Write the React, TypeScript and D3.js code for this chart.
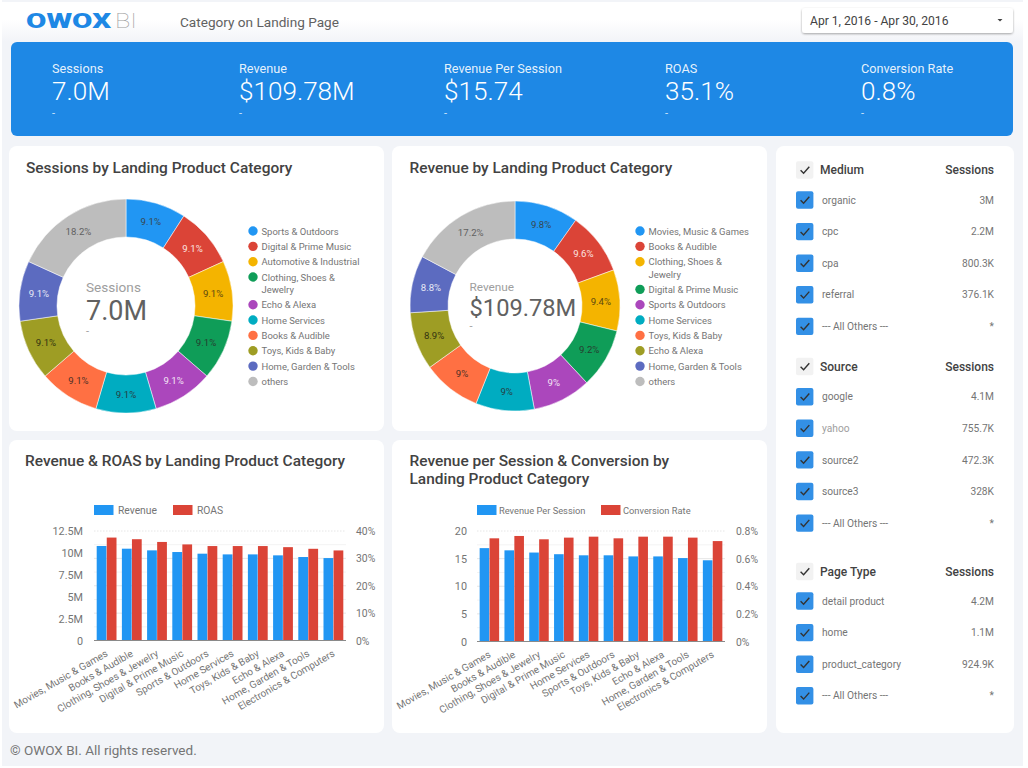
import React from 'react';
import * as d3 from 'd3';

const FONT = 'Roboto, sans-serif';
const BLUE = '#2196f3';
const RED = '#db4437';
const TEXT_GREY = '#757575';

const kpiLabels = ['Sessions', 'Revenue', 'Revenue Per Session', 'ROAS', 'Conversion Rate'];
const kpiValues = ['7.0M', '$109.78M', '$15.74', '35.1%', '0.8%'];
const kpiX = [52, 239, 444, 665, 861];

const PALETTE = ['#2196f3', '#db4437', '#f4b400', '#0f9d58', '#ab47bc', '#00acc1', '#ff7043', '#9e9d24', '#5c6bc0', '#bdbdbd'];
const PIE_LABEL_COLORS = ['#37474f', '#fbe4e0', '#5d4a10', '#263e30', '#f3e5f5', '#263e44', '#4e3026', '#333310', '#e8eaf6', '#616161'];

const sessionCategories = ['Sports & Outdoors', 'Digital & Prime Music', 'Automotive & Industrial', 'Clothing, Shoes &|Jewelry', 'Echo & Alexa', 'Home Services', 'Books & Audible', 'Toys, Kids & Baby', 'Home, Garden & Tools', 'others'];
const sessionShares = [9.1, 9.1, 9.1, 9.1, 9.1, 9.1, 9.1, 9.1, 9.1, 18.2];

const revenueCategories = ['Movies, Music & Games', 'Books & Audible', 'Clothing, Shoes &|Jewelry', 'Digital & Prime Music', 'Sports & Outdoors', 'Home Services', 'Toys, Kids & Baby', 'Echo & Alexa', 'Home, Garden & Tools', 'others'];
const revenueShares = [9.8, 9.6, 9.4, 9.2, 9, 9, 9, 8.9, 8.8, 17.2];

const barCategoriesA = ['Movies, Music & Games', 'Books & Audible', 'Clothing, Shoes & Jewelry', 'Digital & Prime Music', 'Sports & Outdoors', 'Home Services', 'Toys, Kids & Baby', 'Echo & Alexa', 'Home, Garden & Tools', 'Electronics & Computers'];
const revenueValues = [10.79, 10.48, 10.29, 10.1, 9.91, 9.83, 9.83, 9.72, 9.53, 9.41];
const roasValues = [37.6, 37.0, 36.0, 35.1, 34.5, 34.5, 34.5, 34.1, 33.5, 32.9];

const barCategoriesB = ['Movies, Music & Games', 'Books & Audible', 'Clothing, Shoes & Jewelry', 'Digital & Prime Music', 'Home Services', 'Sports & Outdoors', 'Toys, Kids & Baby', 'Echo & Alexa', 'Home, Garden & Tools', 'Electronics & Computers'];
const revPerSessionValues = [16.9, 16.5, 16.1, 15.8, 15.6, 15.6, 15.4, 15.4, 15.1, 14.7];
const conversionValues = [0.747, 0.764, 0.74, 0.752, 0.759, 0.747, 0.759, 0.759, 0.752, 0.727];

const revenueTicks = ['0', '2.5M', '5M', '7.5M', '10M', '12.5M'];
const roasTicks = ['0%', '10%', '20%', '30%', '40%'];
const rpsTicks = ['0', '5', '10', '15', '20'];
const conversionTicks = ['0%', '0.2%', '0.4%', '0.6%', '0.8%'];

const mediumNames = ['organic', 'cpc', 'cpa', 'referral', '--- All Others ---'];
const mediumSessions = ['3M', '2.2M', '800.3K', '376.1K', '*'];
const sourceNames = ['google', 'yahoo', 'source2', 'source3', '--- All Others ---'];
const sourceSessions = ['4.1M', '755.7K', '472.3K', '328K', '*'];
const pageTypeNames = ['detail product', 'home', 'product_category', '--- All Others ---'];
const pageTypeSessions = ['4.2M', '1.1M', '924.9K', '*'];

type DonutProps = {
  cx: number;
  cy: number;
  outer: number;
  inner: number;
  shares: number[];
  categories: string[];
  legendX: number;
  metric: string;
  total: string;
  centerX: number;
  metricY: number;
  totalY: number;
  dashY: number;
  metricSize: number;
  totalSize: number;
};

const Donut = ({ cx, cy, outer, inner, shares, categories, legendX, metric, total, centerX, metricY, totalY, dashY, metricSize, totalSize }: DonutProps) => {
  const arcs = d3.pie<number>().sort(null)(shares);
  const arc = d3.arc<d3.PieArcDatum<number>>().innerRadius(inner).outerRadius(outer);

  let legendY = 231;
  const rows = categories.map((c) => {
    const lines = c.split('|');
    const row = { lines, y: legendY };
    legendY += 15.35 + (lines.length - 1) * 12.3;
    return row;
  });

  return (
    <g>
      <g transform={`translate(${cx},${cy})`}>
        {arcs.map((d, i) => (
          <path key={i} d={arc(d) as string} fill={PALETTE[i]} stroke="#fff" strokeWidth={0.5} />
        ))}
        {arcs.map((d, i) => {
          const [x, y] = arc.centroid(d);
          return (
            <text key={i} x={x} y={y + 3.5} textAnchor="middle" fontSize={9.6} fill={PIE_LABEL_COLORS[i]}>
              {d.data}%
            </text>
          );
        })}
      </g>
      <text x={centerX} y={metricY} fontSize={metricSize} fill="#9e9e9e">{metric}</text>
      <text x={centerX} y={totalY} fontSize={totalSize} fill="#616161">{total}</text>
      <text x={centerX} y={dashY} fontSize={11} fill="#9e9e9e">-</text>
      {rows.map((r, i) => (
        <g key={i}>
          <circle cx={legendX} cy={r.y} r={4.7} fill={PALETTE[i]} />
          {r.lines.map((l, j) => (
            <text key={j} x={legendX + 8.5} y={r.y + 3.5 + j * 12.3} fontSize={9.45} fill={TEXT_GREY}>{l}</text>
          ))}
        </g>
      ))}
    </g>
  );
};

type BarsProps = {
  x0: number;
  x1: number;
  top: number;
  bottom: number;
  categories: string[];
  left: number[];
  right: number[];
  leftMax: number;
  rightMax: number;
  leftTicks: string[];
  rightTicks: string[];
  leftLabelX: number;
  rightLabelX: number;
};

const Bars = ({ x0, x1, top, bottom, categories, left, right, leftMax, rightMax, leftTicks, rightTicks, leftLabelX, rightLabelX }: BarsProps) => {
  const x = d3.scaleBand<string>().domain(categories).range([x0, x1]).paddingInner(0.19).paddingOuter(0.095);
  const sub = d3.scaleBand<string>().domain(['l', 'r']).range([0, x.bandwidth()]).padding(0.03);
  const yL = d3.scaleLinear().domain([0, leftMax]).range([bottom, top]);
  const yR = d3.scaleLinear().domain([0, rightMax]).range([bottom, top]);
  const leftPos = leftTicks.map((_, i) => (leftMax * i) / (leftTicks.length - 1));
  const rightPos = rightTicks.map((_, i) => (rightMax * i) / (rightTicks.length - 1));
  // the right scale drives the grid, the left labels of the first chart sit off it
  const major = rightPos.map((v) => yR(v));
  const minor = major.slice(1).map((y, i) => (y + major[i]) / 2);

  return (
    <g>
      {minor.map((y, i) => <line key={i} x1={x0} x2={x1} y1={y} y2={y} stroke="#f3f3f3" />)}
      {major.map((y, i) => <line key={i} x1={x0} x2={x1} y1={y} y2={y} stroke="#e6e6e6" strokeDasharray={i === major.length - 1 ? '1.5 1.5' : undefined} />)}
      {categories.map((c, i) => (
        <g key={c}>
          <rect x={(x(c) as number) + (sub('l') as number)} width={sub.bandwidth()} y={yL(left[i])} height={bottom - yL(left[i])} fill={BLUE} />
          <rect x={(x(c) as number) + (sub('r') as number)} width={sub.bandwidth()} y={yR(right[i])} height={bottom - yR(right[i])} fill={RED} />
          <text
            transform={`translate(${(x(c) as number) + x.bandwidth() / 2 + 2},${bottom + 15}) rotate(-30)`}
            textAnchor="end"
            fontSize={10}
            fill={TEXT_GREY}
          >
            {c}
          </text>
        </g>
      ))}
      <line x1={x0} x2={x1} y1={bottom} y2={bottom} stroke="#8a8a8a" strokeWidth={1.2} />
      {leftTicks.map((t, i) => (
        <text key={t} x={leftLabelX} y={yL(leftPos[i]) + 4} textAnchor="end" fontSize={10.8} fill={TEXT_GREY}>{t}</text>
      ))}
      {rightTicks.map((t, i) => (
        <text key={t} x={rightLabelX} y={yR(rightPos[i]) + 4} fontSize={10.4} fill={TEXT_GREY}>{t}</text>
      ))}
    </g>
  );
};

const Check = ({ y, header }: { y: number; header?: boolean }) => (
  <g>
    <rect x={796} y={y - 8.7} width={17.4} height={17.4} rx={2} fill={header ? '#f2f2f2' : '#3390e6'} />
    <path d={`M800.6 ${y + 0.3}L803.6 ${y + 3.3}L809.3 ${y - 3.2}`} fill="none" stroke="#333" strokeWidth={1.4} />
  </g>
);

const FilterGroup = ({ title, names, values, y, ys }: { title: string; names: string[]; values: string[]; y: number; ys: number[] }) => (
  <g>
    <Check y={y} header />
    <text x={820} y={y + 4.3} fontSize={12} fontWeight={500} fill="#424242">{title}</text>
    <text x={994} y={y + 4.3} textAnchor="end" fontSize={12} fontWeight={500} fill="#424242">Sessions</text>
    {names.map((n, i) => (
      <g key={n}>
        <Check y={ys[i]} />
        <text x={822} y={ys[i] + 3.6} fontSize={10.2} fill={n === 'yahoo' ? '#9e9e9e' : TEXT_GREY}>{n}</text>
        <text x={994} y={ys[i] + 3.6} textAnchor="end" fontSize={10.2} fill={TEXT_GREY}>{values[i]}</text>
      </g>
    ))}
  </g>
);

const Title = ({ x, y, lines }: { x: number; y: number; lines: string[] }) => (
  <text fontSize={15.45} fontWeight={500} fill="#424242">
    {lines.map((l, i) => <tspan key={i} x={x} y={y + i * 18}>{l}</tspan>)}
  </text>
);

const BarLegend = ({ items, size, gap }: { items: { name: string; x: number; color: string }[]; size: number; gap: number }) => (
  <g>
    {items.map((d) => (
      <g key={d.name}>
        <rect x={d.x} y={505} width={19.5} height={10} fill={d.color} />
        <text x={d.x + gap} y={513.5} fontSize={size} fill={TEXT_GREY}>{d.name}</text>
      </g>
    ))}
  </g>
);

const App = () => {
  const rowYs = (start: number, n: number) => d3.range(n).map((i) => start + i * 31.6);
  return (
    <svg width={1028} height={768} style={{ position: 'absolute', left: 0, top: 0, fontFamily: FONT }}>
      <defs>
        <linearGradient id="headerFade" x1="0" x2="0" y1="0" y2="1">
          <stop offset="0.45" stopColor="#fff" />
          <stop offset="1" stopColor="#f2f4f8" />
        </linearGradient>
        <filter id="dropShadow" x="-5%" y="-30%" width="110%" height="170%">
          <feDropShadow dx="0" dy="1" stdDeviation="1" floodColor="#000" floodOpacity="0.35" />
        </filter>
      </defs>
      <rect width={1028} height={768} fill="#fff" />
      <rect x={2} y={0} width={1021} height={766} fill="#f2f4f8" />
      <rect x={2} y={2} width={1021} height={40} fill="url(#headerFade)" />

      <text x={26} y={28} fontSize={20} fontWeight={900} fill="#1e88e5" textLength={85} lengthAdjust="spacingAndGlyphs">OWOX</text>
      <text x={115} y={28} fontSize={20} fontWeight={100} fill="#a0a0a0" textLength={22} lengthAdjust="spacingAndGlyphs">BI</text>
      <text x={180} y={27} fontSize={13.6} fill="#616161">Category on Landing Page</text>

      <rect x={802} y={8} width={211} height={25} rx={3} fill="#fff" filter="url(#dropShadow)" />
      <text x={810} y={25} fontSize={12.1} fill="#424242">Apr 1, 2016 - Apr 30, 2016</text>
      <path d="M997.5 19h5l-2.5 2.6z" fill="#424242" />

      <rect x={11} y={42} width={1002} height={94} rx={6} fill="#1e88e5" />
      {kpiLabels.map((l, i) => (
        <g key={l} fill="#fff">
          <text x={kpiX[i]} y={73} fontSize={12.7} fillOpacity={0.9}>{l}</text>
          <text x={kpiX[i]} y={100} fontSize={26.1} fontWeight={300}>{kpiValues[i]}</text>
          <text x={kpiX[i]} y={117} fontSize={11} fillOpacity={0.8}>-</text>
        </g>
      ))}

      <rect x={9} y={146} width={375} height={285} rx={8} fill="#fff" />
      <rect x={392} y={146} width={375} height={285} rx={8} fill="#fff" />
      <rect x={9} y={440} width={375} height={293} rx={8} fill="#fff" />
      <rect x={392} y={440} width={375} height={293} rx={8} fill="#fff" />
      <rect x={776} y={146} width={238} height={587} rx={8} fill="#fff" />

      <Title x={26} y={173} lines={['Sessions by Landing Product Category']} />
      <Title x={409.5} y={173} lines={['Revenue by Landing Product Category']} />
      <Title x={25} y={466} lines={['Revenue & ROAS by Landing Product Category']} />
      <Title x={409.5} y={466} lines={['Revenue per Session & Conversion by', 'Landing Product Category']} />

      <Donut cx={126} cy={306} outer={107} inner={69} shares={sessionShares} categories={sessionCategories} legendX={253} metric="Sessions" total="7.0M" centerX={86} metricY={292} totalY={320} dashY={335} metricSize={13.6} totalSize={27} />
      <Donut cx={515} cy={306} outer={105} inner={67} shares={revenueShares} categories={revenueCategories} legendX={640} metric="Revenue" total="$109.78M" centerX={469.5} metricY={291} totalY={316} dashY={330} metricSize={11.8} totalSize={23.7} />

      <BarLegend size={10.3} gap={24} items={[{ name: 'Revenue', x: 94, color: BLUE }, { name: 'ROAS', x: 173, color: RED }]} />
      <BarLegend size={9.3} gap={22} items={[{ name: 'Revenue Per Session', x: 477, color: BLUE }, { name: 'Conversion Rate', x: 601, color: RED }]} />

      <Bars x0={94} x1={346} top={531} bottom={640.5} categories={barCategoriesA} left={revenueValues} right={roasValues} leftMax={12.5} rightMax={40} leftTicks={revenueTicks} rightTicks={roasTicks} leftLabelX={83} rightLabelX={356} />
      <Bars x0={477} x1={725} top={531} bottom={641.5} categories={barCategoriesB} left={revPerSessionValues} right={conversionValues} leftMax={20} rightMax={0.8} leftTicks={rpsTicks} rightTicks={conversionTicks} leftLabelX={467} rightLabelX={736} />

      <FilterGroup title="Medium" names={mediumNames} values={mediumSessions} y={170} ys={rowYs(200, 5)} />
      <FilterGroup title="Source" names={sourceNames} values={sourceSessions} y={366.5} ys={rowYs(396.7, 5)} />
      <FilterGroup title="Page Type" names={pageTypeNames} values={pageTypeSessions} y={571.5} ys={rowYs(601, 4)} />

      <text x={10} y={755} fontSize={13.5} fill={TEXT_GREY}>© OWOX BI. All rights reserved.</text>
    </svg>
  );
};

export default App;
